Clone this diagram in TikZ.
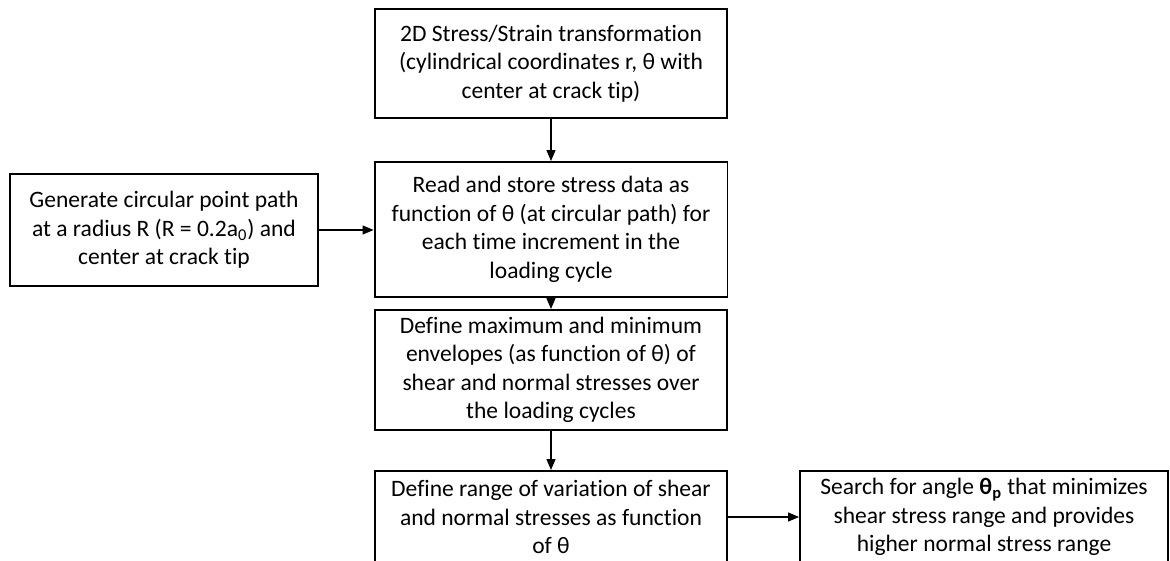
\documentclass[tikz,border=0pt]{standalone}
\usepackage{fontspec}
\setmainfont{Carlito}[Ligatures={NoCommon}]
\usetikzlibrary{arrows.meta}

\begin{document}
\begin{tikzpicture}[x=0.02cm, y=-0.02cm,
    stepbox/.style={rectangle, draw=black, line width=1.1pt, align=center, inner sep=2pt,
      font=\fontsize{13.4}{16.2}\selectfont},
    flow/.style={->, line width=0.7pt},
    >={Triangle[length=2.2mm, width=1.8mm]}]
    \useasboundingbox (0,0) rectangle (1170,561);
    \clip (0,0) rectangle (1170,561);

    % Transformation
    \node[stepbox, minimum width=7.04cm, minimum height=2.18cm] (trans) at (551,63.5)
      {2D Stress/Strain transformation\\(cylindrical coordinates r, θ with\\center at crack tip)};

    % Kreisfoermiger Pfad
    \node[stepbox, minimum width=6.16cm, minimum height=2.24cm] (path) at (164,230)
      {Generate circular point path\\at a radius R (R = 0.2a\textsubscript{0}) and\\center at crack tip};

    % Spannungen einlesen
    \node[stepbox, minimum width=7.06cm, minimum height=2.7cm] (read) at (551,229.5)
      {Read and store stress data as\\function of θ (at circular path) for\\each time increment in the\\loading cycle};

    % Einhuellende
    \node[stepbox, minimum width=7.04cm, minimum height=2.4cm] (envel) at (551,370)
      {Define maximum and minimum\\envelopes (as function of θ) of\\shear and normal stresses over\\the loading cycles};

    % Schwingbreite
    \node[stepbox, minimum width=7.04cm, minimum height=1.84cm] (range) at (551,517)
      {Define range of variation of shear\\and normal stresses as function\\of θ};

    % Suche nach theta_p
    \node[stepbox, minimum width=7.36cm, minimum height=1.84cm] (search) at (984,517)
      {Search for angle \textbf{θ\textsubscript{p}} that minimizes\\shear stress range and provides\\higher normal stress range};

    % Pfeile
    \draw[flow] (trans) -- (read);
    \draw[flow] (path.east) -- (path.east -| read.west);
    \draw[flow] (read) -- (envel);
    \draw[flow] (envel) -- (range);
    \draw[flow] (range) -- (search);
\end{tikzpicture}
\end{document}
